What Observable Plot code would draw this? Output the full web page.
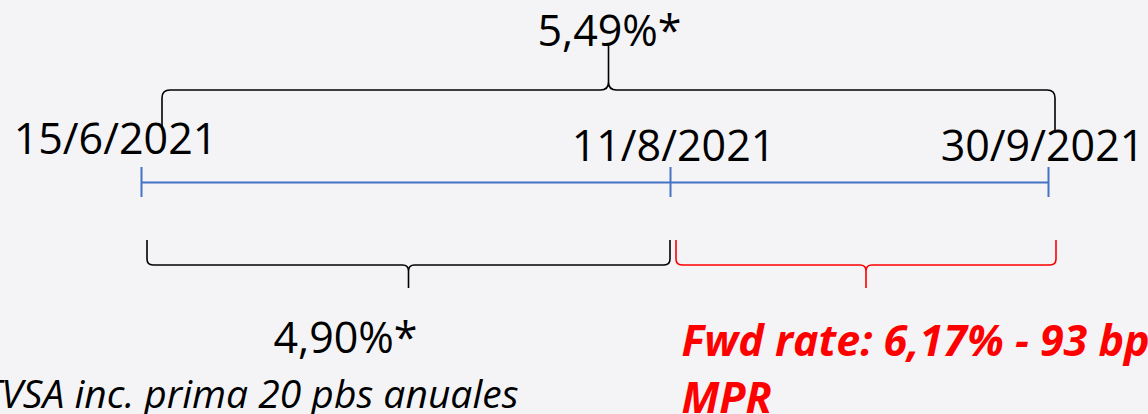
<!DOCTYPE html>
<html>
<head>
<meta charset="utf-8">
<script src="https://cdn.jsdelivr.net/npm/d3@7"></script>
<script src="https://cdn.jsdelivr.net/npm/@observablehq/plot@0.6"></script>
<style>
html, body { margin: 0; padding: 0; background: #f4f4f6; overflow: hidden; }
</style>
</head>
<body>
<div id="chart"></div>
<script>
// ---- data ----
const dates = ["2021-06-15", "2021-08-11", "2021-09-30"];
const dateLabels = ["15/6/2021", "11/8/2021", "30/9/2021"];
const rateFrom = ["2021-06-15", "2021-06-15", "2021-08-11"];
const rateTo = ["2021-09-30", "2021-08-11", "2021-09-30"];
const rateLabels = ["5,49%*", "4,90%*", "Fwd rate: 6,17% - 93 bps"];
const fwdNote = "MPR";
const rateNote = "TVSA inc. prima 20 pbs anuales";

// ---- layout / style ----
const parse = d3.utcParse("%Y-%m-%d");
const W = 1148, H = 414;
const FONT = "'Open Sans', 'Noto Sans', sans-serif";
const BLUE = "#4472c4", RED = "#ff0000";

const dateText = [
  {y: 153, dx: -26},
  {y: 160, dx: 3},
  {y: 160, dx: -6}
];
const braceGeom = [
  {dx0: 21, dx1: 7, yEnd: 130, yBar: 90, yTip: 45, r: 8, color: "#000"},
  {dx0: 6, dx1: 0, yEnd: 240, yBar: 265, yTip: 288, r: 6, color: "#000"},
  {dx0: 6, dx1: 8, yEnd: 240, yBar: 265, yTip: 288, r: 6, color: RED}
];

function braces(index, scales) {
  const g = d3.create("svg:g");
  rateFrom.forEach((f, i) => {
    const G = braceGeom[i];
    const x0 = scales.x(parse(f)) + G.dx0;
    const x1 = scales.x(parse(rateTo[i])) + G.dx1;
    const xm = (x0 + x1) / 2;
    const s = Math.sign(G.yEnd - G.yBar);
    const r = G.r;
    const p = d3.path();
    p.moveTo(x0, G.yEnd);
    p.lineTo(x0, G.yBar + s * r);
    p.quadraticCurveTo(x0, G.yBar, x0 + r, G.yBar);
    p.lineTo(xm - r, G.yBar);
    p.quadraticCurveTo(xm, G.yBar, xm, G.yBar - s * r);
    p.lineTo(xm, G.yTip);
    p.moveTo(xm, G.yBar - s * r);
    p.quadraticCurveTo(xm, G.yBar, xm + r, G.yBar);
    p.lineTo(x1 - r, G.yBar);
    p.quadraticCurveTo(x1, G.yBar, x1, G.yBar + s * r);
    p.lineTo(x1, G.yEnd);
    g.append("path")
      .attr("d", p.toString())
      .attr("fill", "none")
      .attr("stroke", G.color)
      .attr("stroke-width", 1.6);
  });
  return g.node();
}

const chart = Plot.plot({
  width: W,
  height: H,
  margin: 0,
  style: {background: "#f4f4f6"},
  x: {type: "utc", domain: dates.map(parse), range: [141, 670, 1048], axis: null},
  y: {type: "identity"},
  marks: [
    // timeline
    Plot.ruleY([182], {x1: parse(dates[0]), x2: parse(dates[2]), stroke: BLUE, strokeWidth: 2}),
    Plot.ruleX(dates, {x: parse, y1: 167, y2: 197, stroke: BLUE, strokeWidth: 2}),
    // date labels
    ...dates.map((d, i) => Plot.text([dateLabels[i]], {
      x: parse(d), y: dateText[i].y, dx: dateText[i].dx, text: t => t,
      lineAnchor: "bottom", textAnchor: "middle",
      fontFamily: FONT, fontSize: 43, fill: "#000"
    })),
    // braces
    braces,
    // rate labels
    Plot.text([rateLabels[0]], {
      x: parse(dates[1]), y: 45, dx: -61, text: t => t, lineAnchor: "bottom",
      textAnchor: "middle", fontFamily: FONT, fontSize: 43, fill: "#000"
    }),
    Plot.text([rateLabels[1]], {
      x: parse(rateFrom[1]), y: 352, dx: 204, text: t => t, lineAnchor: "bottom",
      textAnchor: "middle", fontFamily: FONT, fontSize: 43, fill: "#000"
    }),
    Plot.text([rateNote], {
      x: parse(rateFrom[1]), y: 407, dx: 377, text: t => t, lineAnchor: "bottom",
      textAnchor: "end", fontFamily: FONT, fontSize: 39, fontStyle: "italic", fill: "#000"
    }),
    Plot.text([rateLabels[2]], {
      x: parse(rateFrom[2]), y: 355, dx: 11, text: t => t, lineAnchor: "bottom",
      textAnchor: "start", fontFamily: FONT, fontSize: 43, fontStyle: "italic",
      fontWeight: "bold", fill: RED
    }),
    Plot.text([fwdNote], {
      x: parse(rateFrom[2]), y: 412, dx: 11, text: t => t, lineAnchor: "bottom",
      textAnchor: "start", fontFamily: FONT, fontSize: 43, fontStyle: "italic",
      fontWeight: "bold", fill: RED
    })
  ]
});
document.getElementById("chart").appendChild(chart);
</script>
</body>
</html>
